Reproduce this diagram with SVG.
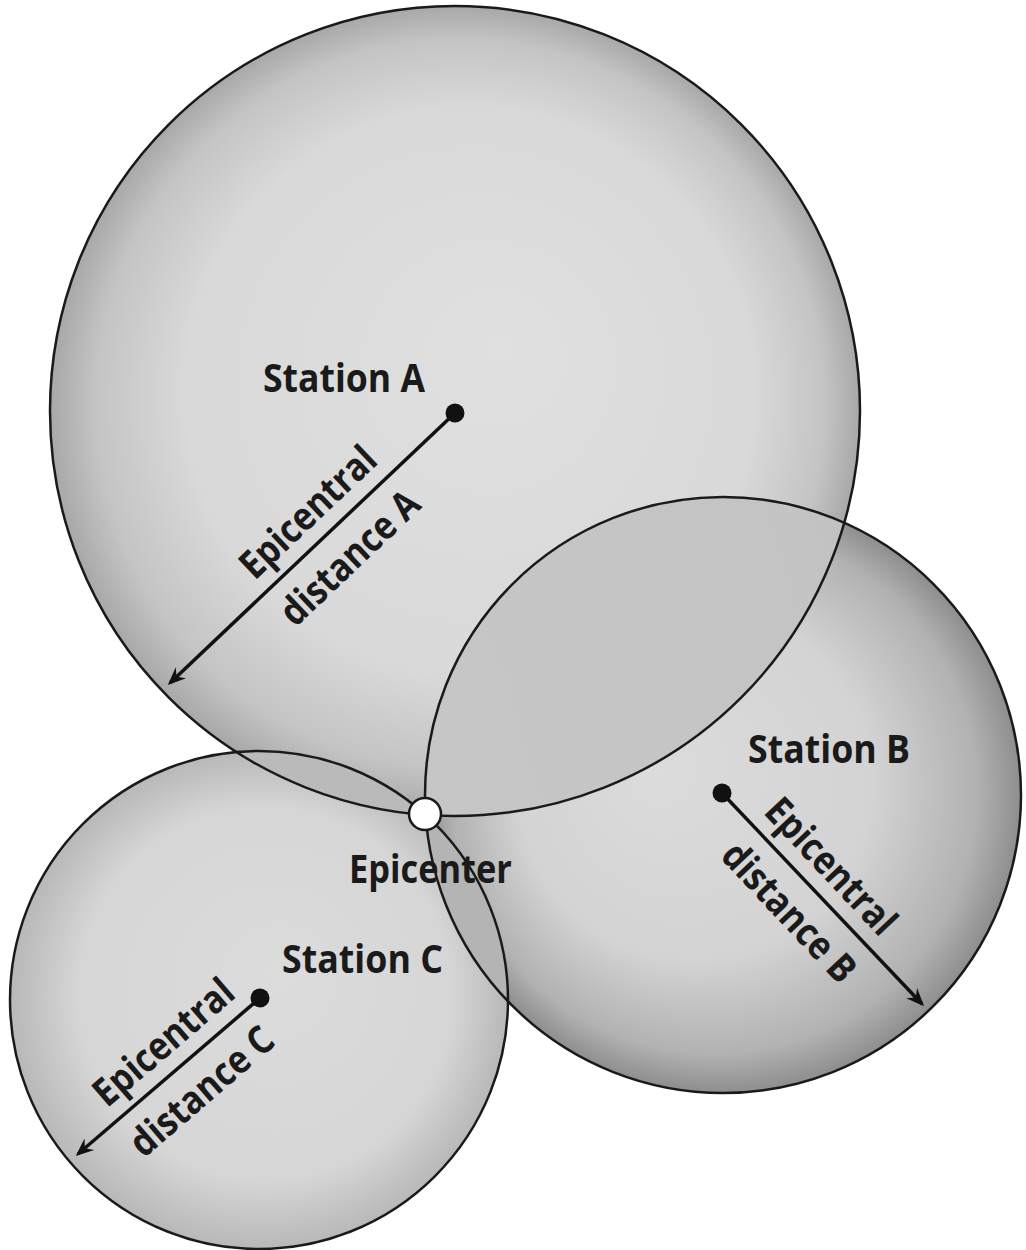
<svg xmlns="http://www.w3.org/2000/svg" width="1026" height="1250" viewBox="0 0 1026 1250">
<style>
.ring{fill:none;stroke:#1a1a1a;stroke-width:2.5}
.lbl{font-family:"Open Sans","Noto Sans","Liberation Sans",sans-serif;font-weight:bold;font-size:39px;fill:#1a1a1a}
.conn{stroke:#111;stroke-width:3.5;fill:none;marker-end:url(#ah)}
.dot{fill:#111}
</style>
<defs>
<radialGradient id="gA" cx="0.5" cy="0.5" r="0.5" fx="0.56" fy="0.42">
<stop offset="0" stop-color="#e0e0e0"/>
<stop offset="0.7" stop-color="#d9d9d9"/>
<stop offset="0.9" stop-color="#c4c4c4"/>
<stop offset="1" stop-color="#a8a8a8"/>
</radialGradient>
<radialGradient id="gB" cx="0.5" cy="0.5" r="0.5" fx="0.38" fy="0.45">
<stop offset="0" stop-color="#dcdcdc"/>
<stop offset="0.6" stop-color="#d3d3d3"/>
<stop offset="0.88" stop-color="#b2b2b2"/>
<stop offset="1" stop-color="#8e8e8e"/>
</radialGradient>
<radialGradient id="gC" cx="0.5" cy="0.5" r="0.5" fx="0.55" fy="0.45">
<stop offset="0" stop-color="#dcdcdc"/>
<stop offset="0.75" stop-color="#d6d6d6"/>
<stop offset="1" stop-color="#b8b8b8"/>
</radialGradient>
<linearGradient id="gL" x1="0" y1="0.5" x2="1" y2="0.2">
<stop offset="0" stop-color="#c6c6c6"/>
<stop offset="0.7" stop-color="#c4c4c4"/>
<stop offset="1" stop-color="#b6b6b6"/>
</linearGradient>
<clipPath id="clipA"><circle cx="455" cy="411" r="405"/></clipPath>
<clipPath id="clipB"><circle cx="723" cy="795" r="298"/></clipPath>
<marker id="ah" viewBox="-18 -8 22 16" refX="0" refY="0" markerWidth="22" markerHeight="16" orient="auto" markerUnits="userSpaceOnUse">
<path d="M3,0 L-15,-7.5 L-9,0 L-15,7.5 Z" fill="#111"/>
</marker>
</defs>
<rect width="1026" height="1250" fill="#fff"/>
<g id="fills">
<circle fill="url(#gA)" cx="455" cy="411" r="405"/>
<circle fill="url(#gB)" cx="723" cy="795" r="298"/>
<circle fill="url(#gC)" cx="259" cy="1000" r="249"/>
<circle fill="url(#gL)" cx="723" cy="795" r="298" clip-path="url(#clipA)"/>
<circle fill="#bababa" cx="259" cy="1000" r="249" clip-path="url(#clipA)"/>
<circle fill="#b4b4b4" cx="259" cy="1000" r="249" clip-path="url(#clipB)"/>
</g>
<g id="circle-a"><circle class="ring" cx="455" cy="411" r="405"/></g>
<g id="circle-b"><circle class="ring" cx="723" cy="795" r="298"/></g>
<g id="circle-c"><circle class="ring" cx="259" cy="1000" r="249"/></g>
<g id="connectors">
<line class="conn" x1="455" y1="413" x2="170" y2="683"/>
<line class="conn" x1="722" y1="793" x2="922" y2="1004"/>
<line class="conn" x1="260" y1="998" x2="78" y2="1154"/>
</g>
<g id="station-a">
<circle class="dot" cx="455" cy="413" r="9.5"/>
<text class="lbl" x="263" y="392" textLength="162" lengthAdjust="spacingAndGlyphs">Station A</text>
<g transform="translate(455,413) rotate(-43.5)">
<text class="lbl" x="-175" y="-16" text-anchor="middle" textLength="172" lengthAdjust="spacingAndGlyphs">Epicentral</text>
<text class="lbl" x="-176" y="46" text-anchor="middle" textLength="176" lengthAdjust="spacingAndGlyphs">distance A</text>
</g>
</g>
<g id="station-b">
<circle class="dot" cx="722" cy="793" r="9.5"/>
<text class="lbl" x="748" y="763" textLength="162" lengthAdjust="spacingAndGlyphs">Station B</text>
<g transform="translate(722,793) rotate(46.8)">
<text class="lbl" x="128" y="-16" text-anchor="middle" textLength="172" lengthAdjust="spacingAndGlyphs">Epicentral</text>
<text class="lbl" x="133" y="46" text-anchor="middle" textLength="176" lengthAdjust="spacingAndGlyphs">distance B</text>
</g>
</g>
<g id="station-c">
<circle class="dot" cx="260" cy="998" r="9.5"/>
<text class="lbl" x="282" y="973" textLength="161" lengthAdjust="spacingAndGlyphs">Station C</text>
<g transform="translate(260,998) rotate(-40.7)">
<text class="lbl" x="-102" y="-16" text-anchor="middle" textLength="172" lengthAdjust="spacingAndGlyphs">Epicentral</text>
<text class="lbl" x="-105" y="46" text-anchor="middle" textLength="176" lengthAdjust="spacingAndGlyphs">distance C</text>
</g>
</g>
<g id="epicenter">
<circle cx="425" cy="814" r="16" fill="#fff" stroke="#1a1a1a" stroke-width="2.5"/>
<text class="lbl" x="349" y="883" textLength="163" lengthAdjust="spacingAndGlyphs">Epicenter</text>
</g>
</svg>
